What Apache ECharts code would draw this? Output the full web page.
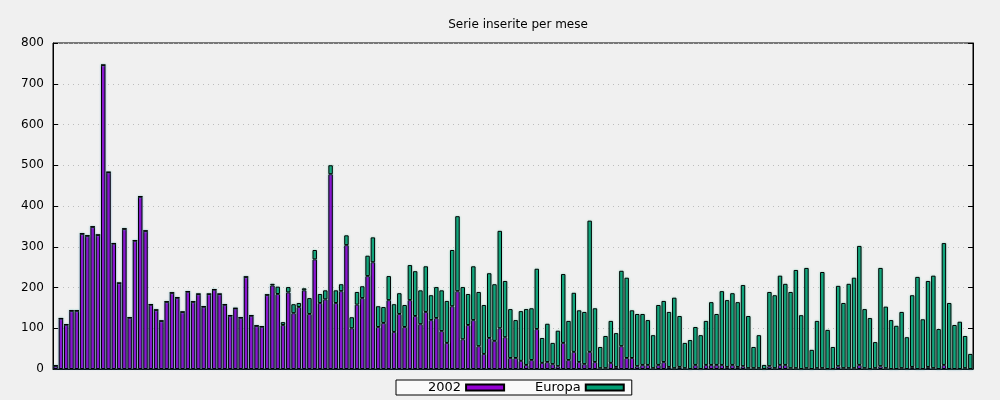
<!DOCTYPE html>
<html>
<head>
<meta charset="utf-8">
<script src="https://cdn.jsdelivr.net/npm/echarts@6/dist/echarts.min.js"></script>
<style>
  html, body { margin: 0; padding: 0; background: #f0f0f0; }
  #main { width: 1000px; height: 400px; }
</style>
</head>
<body>
<div id="main"></div>
<script>
// valori, un valore per mese
const serie2002 = [
  8, 124, 109, 143, 143, 332, 327, 349, 329, 746,
  483, 308, 211, 344, 126, 315, 423, 339, 158, 145,
  118, 165, 187, 175, 140, 190, 165, 184, 153, 184,
  195, 184, 158, 131, 149, 126, 226, 131, 106, 104,
  182, 205, 184, 108, 188, 137, 152, 193, 135, 269,
  162, 171, 478, 162, 191, 304, 100, 158, 174, 228,
  262, 103, 113, 169, 91, 135, 103, 169, 130, 110,
  140, 120, 125, 93, 64, 154, 191, 73, 108, 120,
  56, 37, 76, 69, 100, 78, 27, 27, 20, 10,
  22, 98, 15, 17, 12, 7, 64, 22, 42, 17,
  12, 42, 17, 2, 2, 15, 5, 56, 27, 27,
  7, 10, 10, 2, 10, 17, 5, 2, 5, 2,
  0, 10, 0, 10, 10, 10, 10, 5, 10, 5,
  7, 2, 2, 2, 0, 7, 2, 10, 10, 2,
  2, 0, 2, 0, 2, 2, 0, 0, 7, 2,
  2, 2, 10, 2, 0, 2, 7, 2, 0, 0,
  2, 0, 5, 0, 0, 5, 2, 0, 10, 0,
  0, 0, 2, 0
];
const serieEuropa = [
  0, 0, 0, 0, 0, 0, 0, 0, 0, 0,
  0, 0, 0, 0, 0, 0, 0, 0, 0, 0,
  0, 0, 0, 0, 0, 0, 0, 0, 0, 0,
  0, 0, 0, 0, 0, 0, 0, 0, 0, 0,
  0, 4, 18, 7, 13, 22, 10, 5, 39, 23,
  22, 22, 22, 31, 17, 24, 27, 31, 29, 50,
  61, 51, 39, 59, 68, 51, 54, 86, 110, 83,
  112, 61, 76, 100, 103, 138, 184, 128, 76, 132,
  133, 120, 159, 139, 239, 138, 120, 93, 122, 137,
  127, 148, 61, 94, 52, 87, 169, 96, 145, 127,
  128, 322, 132, 52, 79, 103, 83, 185, 197, 117,
  128, 125, 110, 81, 147, 150, 135, 173, 125, 62,
  71, 93, 83, 108, 154, 125, 181, 164, 176, 159,
  199, 128, 52, 81, 10, 182, 179, 219, 199, 187,
  241, 132, 246, 47, 116, 236, 96, 54, 197, 160,
  207, 222, 292, 145, 125, 64, 241, 151, 120, 106,
  138, 78, 176, 226, 122, 211, 227, 98, 299, 162,
  108, 116, 79, 37
];
const nomiSerie = ["2002", "Europa"];
// le etichette dei mesi non sono visibili nel grafico
const mesi = serie2002.map((_, i) => String(i + 1));

var myChart = echarts.init(document.getElementById("main"));

const stileTesto = { fontFamily: "DejaVu Sans", fontSize: 12, color: "#000" };

var option = {
  backgroundColor: "#f0f0f0",
  animation: false,
  title: {
    text: "Serie inserite per mese",
    left: 513,
    top: 14,
    textAlign: "center",
    textStyle: { fontFamily: "DejaVu Sans", fontSize: 12, fontWeight: "normal", color: "#000" }
  },
  legend: {
    data: nomiSerie,
    left: 396,
    top: 380,
    align: "right",
    icon: "rect",
    itemWidth: 38,
    itemHeight: 6,
    itemGap: 30,
    padding: [1, 7, 1, 32],
    backgroundColor: "#fafafa",
    borderColor: "#000",
    borderWidth: 1,
    borderRadius: 0,
    textStyle: { fontFamily: "DejaVu Sans", fontSize: 13, color: "#000" }
  },
  grid: {
    left: 53,
    right: 27,
    top: 43,
    bottom: 31,
    show: true,
    backgroundColor: "#f0f0f0",
    borderColor: "#000",
    borderWidth: 1
  },
  xAxis: {
    type: "category",
    data: mesi,
    axisLine: { lineStyle: { color: "#000" } },
    axisTick: { show: false },
    axisLabel: { show: false }
  },
  yAxis: [
    {
      type: "value",
      min: 0,
      max: 800,
      interval: 100,
      axisLine: { show: true, lineStyle: { color: "#000" } },
      axisTick: { show: true, inside: true, length: 5, lineStyle: { color: "#000" } },
      axisLabel: Object.assign({ margin: 9 }, stileTesto),
      splitLine: { show: true, lineStyle: { color: "#bdbdbd", type: [1, 4] } }
    },
    {
      type: "value",
      position: "right",
      min: 0,
      max: 800,
      interval: 100,
      axisLine: { show: true, lineStyle: { color: "#000" } },
      axisTick: { show: true, inside: true, length: 5, lineStyle: { color: "#000" } },
      axisLabel: { show: false },
      splitLine: { show: false }
    }
  ],
  series: [
    {
      name: nomiSerie[0],
      type: "bar",
      stack: "totale",
      barCategoryGap: "16%",
      data: serie2002,
      itemStyle: {
        color: "#9400d3",
        borderColor: "#000",
        borderWidth: 1,
        shadowBlur: 2,
        shadowColor: "rgba(80,150,200,0.7)"
      }
    },
    {
      name: nomiSerie[1],
      type: "bar",
      stack: "totale",
      data: serieEuropa,
      itemStyle: {
        color: "#009e73",
        borderColor: "#000",
        borderWidth: 1,
        shadowBlur: 2,
        shadowColor: "rgba(110,210,180,0.7)"
      }
    }
  ]
};

myChart.setOption(option);
</script>
</body>
</html>
